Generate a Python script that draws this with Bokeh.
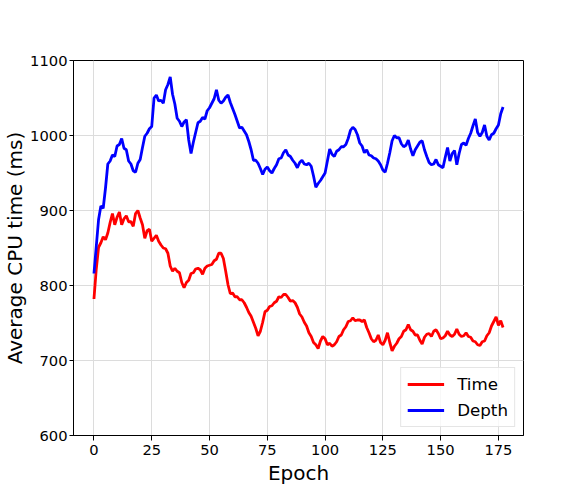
from bokeh.plotting import figure
from bokeh.models import Range1d, FixedTicker
from bokeh.embed import file_html
from bokeh.resources import INLINE

epochs = list(range(178))

depth = [
    816, 852, 888, 906, 903, 930, 962, 966, 974, 972,
    986, 988, 996, 983, 981, 966, 962, 953, 951, 963,
    968, 984, 999, 1003, 1009, 1012, 1050, 1054, 1046, 1047,
    1043, 1061, 1068, 1078, 1055, 1042, 1023, 1019, 1012, 1018,
    1021, 994, 976, 991, 1004, 1017, 1019, 1024, 1022, 1033,
    1037, 1043, 1049, 1061, 1047, 1043, 1046, 1051, 1054, 1044,
    1036, 1028, 1019, 1010, 1011, 1006, 1001, 992, 981, 967,
    967, 963, 956, 948, 955, 958, 953, 950, 956, 961,
    969, 970, 977, 981, 974, 972, 967, 963, 957, 964,
    967, 962, 961, 963, 959, 946, 931, 936, 940, 945,
    950, 966, 982, 975, 972, 979, 981, 985, 985, 988,
    996, 1007, 1011, 1008, 1001, 990, 986, 977, 981, 974,
    973, 970, 969, 966, 961, 954, 951, 963, 977, 993,
    1000, 997, 997, 989, 985, 987, 994, 982, 973, 981,
    986, 991, 993, 981, 972, 964, 961, 962, 968, 961,
    959, 957, 971, 984, 966, 976, 980, 961, 976, 988,
    990, 987, 996, 1003, 1013, 1022, 1004, 999, 1004, 1014,
    999, 994, 1001, 1003, 1009, 1014, 1029, 1038,
]

time = [
    782, 822, 851, 857, 865, 861, 870, 884, 896, 881,
    891, 898, 881, 889, 893, 885, 885, 879, 896, 900,
    890, 881, 863, 873, 875, 859, 863, 867, 859, 854,
    850, 849, 843, 826, 819, 823, 819, 817, 804, 797,
    804, 807, 816, 817, 822, 823, 821, 815, 823, 826,
    827, 828, 833, 835, 843, 843, 836, 819, 801, 789,
    790, 785, 785, 781, 781, 777, 771, 764, 759, 751,
    743, 733, 739, 751, 765, 767, 772, 773, 777, 779,
    785, 784, 788, 788, 784, 779, 780, 777, 771, 762,
    758, 751, 746, 737, 732, 724, 721, 716, 726, 732,
    729, 721, 723, 719, 721, 725, 732, 734, 741, 745,
    752, 753, 757, 753, 754, 754, 752, 754, 744, 737,
    729, 725, 727, 734, 724, 721, 727, 737, 724, 713,
    719, 723, 729, 732, 739, 741, 748, 741, 739, 734,
    734, 727, 722, 731, 735, 736, 732, 739, 741, 736,
    729, 730, 733, 739, 734, 732, 735, 742, 735, 732,
    733, 737, 732, 731, 726, 725, 721, 720, 725, 726,
    733, 737, 746, 752, 758, 747, 753, 744,
]

x_ticks = [0, 25, 50, 75, 100, 125, 150, 175]
y_ticks = [600, 700, 800, 900, 1000, 1100]

FONT = "DejaVu Sans"

p = figure(width=581, height=498, output_backend="svg", toolbar_location=None,
           x_range=Range1d(-8.85, 185.85), y_range=Range1d(600, 1100),
           min_border_left=72, min_border_right=58, min_border_top=60, min_border_bottom=63)

p.line(epochs, time, line_color="#ff0000", line_width=2.8, legend_label="Time")
p.line(epochs, depth, line_color="#0000ff", line_width=2.8, legend_label="Depth")

p.xaxis.ticker = FixedTicker(ticks=x_ticks)
p.yaxis.ticker = FixedTicker(ticks=y_ticks)
p.xaxis.axis_label = "Epoch"
p.yaxis.axis_label = "Average CPU time (ms)"

for ax in (p.xaxis[0], p.yaxis[0]):
    ax.axis_label_text_font = FONT
    ax.axis_label_text_font_size = "20px"
    ax.axis_label_text_font_style = "normal"
    ax.major_label_text_font = FONT
    ax.major_label_text_font_size = "14.7px"
    ax.major_label_text_color = "black"
    ax.axis_label_text_color = "black"
    ax.major_tick_out = 5
    ax.major_tick_in = 0
    ax.minor_tick_out = 0
    ax.minor_tick_in = 0
    ax.axis_line_color = "black"
    ax.major_tick_line_color = "black"
    ax.major_label_standoff = 4
    ax.axis_label_standoff = 3

p.yaxis[0].major_tick_out = 4
p.yaxis[0].axis_label_standoff = 0
p.yaxis[0].major_label_standoff = 2

p.xgrid.grid_line_color = "#dcdcdc"
p.ygrid.grid_line_color = "#dcdcdc"
p.xgrid.grid_line_width = 1
p.ygrid.grid_line_width = 1

p.outline_line_color = "black"
p.outline_line_width = 1
p.outline_line_alpha = 1

lg = p.legend[0]
lg.location = "bottom_right"
lg.label_text_font = FONT
lg.label_text_font_size = "16.7px"
lg.label_text_color = "black"
lg.glyph_width = 37
lg.glyph_height = 20
lg.label_height = 20
lg.label_standoff = 13
lg.padding = 6
lg.spacing = 6
lg.margin = 8
lg.border_line_color = "#cccccc"
lg.border_line_width = 1
lg.background_fill_color = "white"
lg.background_fill_alpha = 0.8

open("out.html", "w").write(file_html(p, INLINE))
